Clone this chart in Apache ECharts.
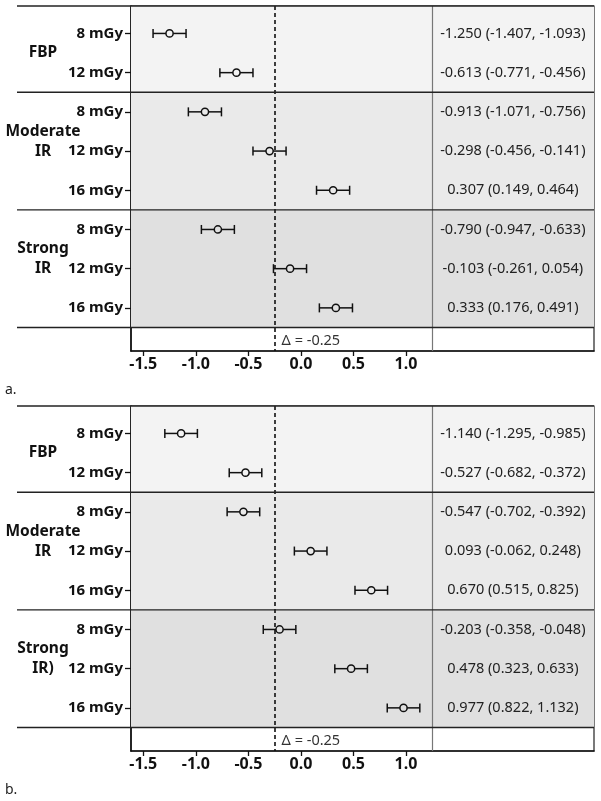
<!DOCTYPE html>
<html><head><meta charset="utf-8">
<script src="https://cdn.jsdelivr.net/npm/echarts@6/dist/echarts.min.js"></script>
<style>html,body{margin:0;padding:0;background:#fff}#c{width:601px;height:801px}</style>
</head><body><div id="c"></div>
<script>
// ---- data ----
const doseLabels = ['8 mGy','12 mGy','8 mGy','12 mGy','16 mGy','8 mGy','12 mGy','16 mGy'];
const groupLabelsA = ['FBP','Moderate\nIR','Strong\nIR'];
const groupLabelsB = ['FBP','Moderate\nIR','Strong\nIR)'];
const groupSizes = [2,3,3];
const estA  = [-1.250,-0.613,-0.913,-0.298, 0.307,-0.790,-0.103, 0.333];
const lowA  = [-1.407,-0.771,-1.071,-0.456, 0.149,-0.947,-0.261, 0.176];
const highA = [-1.093,-0.456,-0.756,-0.141, 0.464,-0.633, 0.054, 0.491];
const estB  = [-1.140,-0.527,-0.547, 0.093, 0.670,-0.203, 0.478, 0.977];
const lowB  = [-1.295,-0.682,-0.702,-0.062, 0.515,-0.358, 0.323, 0.822];
const highB = [-0.985,-0.372,-0.392, 0.248, 0.825,-0.048, 0.633, 1.132];
const xTicks = [-1.5,-1.0,-0.5,0.0,0.5,1.0];
const marginDelta = -0.25;
const panelLabels = ['a.','b.'];

// ---- layout / style ----
const X_MIN = -1.617, X_MAX = 2.79, X_SEP = 1.245;
const Y_MIN = -0.70, Y_MAX = 8.10;
const groupColors = ['#f3f3f3','#eaeaea','#e0e0e0'];
const FONT = '"Noto Sans", sans-serif';
const panelTops = [6, 406];
const gridH = 345;

function fmt(v){ return v.toFixed(3); }

const panels = [
  {est: estA, lo: lowA, hi: highA, groups: groupLabelsA},
  {est: estB, lo: lowB, hi: highB, groups: groupLabelsB}
];

// group boundaries in row units
const bounds = [Y_MIN];
{ let acc = 0; groupSizes.forEach(s => { acc += s; bounds.push(acc - 0.5); }); }

const grids = [], xAxes = [], yAxes = [], series = [];
panels.forEach((p, i) => {
  grids.push({left: 131, right: 7, top: panelTops[i], height: gridH, show: true,
    borderColor: '#222', borderWidth: 1.2, backgroundColor: 'transparent'});
  xAxes.push({type: 'value', gridIndex: i, min: X_MIN, max: X_MAX,
    axisLine: {show: true, onZero: false, lineStyle: {color: '#111', width: 1.6}},
    axisTick: {show: true, customValues: xTicks, length: 5, lineStyle: {color: '#111', width: 1.3}},
    axisLabel: {show: true, customValues: xTicks, formatter: v => v.toFixed(1),
      fontFamily: FONT, fontWeight: 'bold', fontSize: 16, color: '#111', margin: 5},
    splitLine: {show: false}});
  const rows = doseLabels.map((_, k) => k);
  yAxes.push({type: 'value', gridIndex: i, inverse: true, min: Y_MIN, max: Y_MAX,
    axisLine: {show: true, onZero: false, lineStyle: {color: '#111', width: 1.6}},
    axisTick: {show: true, customValues: rows, length: 6, lineStyle: {color: '#111', width: 1.3}},
    axisLabel: {show: true, customValues: rows, formatter: v => doseLabels[Math.round(v)],
      fontFamily: FONT, fontWeight: 'bold', fontSize: 15, color: '#111', margin: 8},
    splitLine: {show: false}});

  // shading + reference lines
  const areas = groupSizes.map((_, g) => [
    {yAxis: bounds[g], itemStyle: {color: groupColors[g]}},
    {yAxis: bounds[g + 1]}
  ]);
  series.push({type: 'line', xAxisIndex: i, yAxisIndex: i, data: [], silent: true, z: 1,
    markArea: {silent: true, data: areas, itemStyle: {opacity: 1}},
    markLine: {silent: true, symbol: 'none', label: {show: false}, data: [
      {xAxis: X_SEP, lineStyle: {color: '#777', width: 1.2, type: 'solid'}},
      {xAxis: marginDelta, lineStyle: {color: '#111', width: 1.6, type: [4, 3]}}
    ]}});

  // error bars + circles
  const ebData = p.est.map((e, k) => [p.lo[k], p.hi[k], e, k]);
  series.push({type: 'custom', xAxisIndex: i, yAxisIndex: i, z: 5, data: ebData,
    renderItem: (params, api) => {
      const lo = api.coord([api.value(0), api.value(3)]);
      const hi = api.coord([api.value(1), api.value(3)]);
      const c = api.coord([api.value(2), api.value(3)]);
      const r = 3.6, cap = 4.5;
      const st = {stroke: '#111', lineWidth: 1.5, fill: null};
      return {type: 'group', children: [
        {type: 'line', shape: {x1: lo[0], y1: lo[1], x2: c[0] - r, y2: c[1]}, style: st},
        {type: 'line', shape: {x1: c[0] + r, y1: c[1], x2: hi[0], y2: hi[1]}, style: st},
        {type: 'line', shape: {x1: lo[0], y1: lo[1] - cap, x2: lo[0], y2: lo[1] + cap}, style: st},
        {type: 'line', shape: {x1: hi[0], y1: hi[1] - cap, x2: hi[0], y2: hi[1] + cap}, style: st},
        {type: 'circle', shape: {cx: c[0], cy: c[1], r: r}, style: {stroke: '#111', lineWidth: 1.5, fill: 'none'}}
      ]};
    }});

  // right column text
  const colX = (X_SEP + X_MAX) / 2;
  const txtData = p.est.map((e, k) => [colX, k, fmt(e) + ' (' + fmt(p.lo[k]) + ', ' + fmt(p.hi[k]) + ')']);
  series.push({type: 'custom', xAxisIndex: i, yAxisIndex: i, z: 6, data: txtData,
    renderItem: (params, api) => {
      const c = api.coord([api.value(0), api.value(1)]);
      return {type: 'text', x: c[0], y: c[1], style: {text: txtData[params.dataIndex][2],
        textAlign: 'center', textVerticalAlign: 'middle', fontFamily: FONT, fontSize: 14.5, fill: '#222'}};
    }});

  // delta label
  const dY = (bounds[bounds.length - 1] + Y_MAX) / 2;
  series.push({type: 'custom', xAxisIndex: i, yAxisIndex: i, z: 6, data: [[marginDelta, dY]],
    renderItem: (params, api) => {
      const c = api.coord([api.value(0), api.value(1)]);
      return {type: 'text', x: c[0] + 7, y: c[1] + 2, style: {text: 'Δ = ' + marginDelta.toFixed(2),
        textAlign: 'left', textVerticalAlign: 'middle', fontFamily: FONT, fontSize: 14.5, fill: '#333'}};
    }});
});

const chart = echarts.init(document.getElementById('c'), null, {renderer: 'canvas'});
chart.setOption({animation: false, backgroundColor: '#fff', grid: grids, xAxis: xAxes, yAxis: yAxes, series: series});

// separator lines + group labels + panel labels (positions from axes)
const graphics = [];
panels.forEach((p, i) => {
  const rightPx = chart.convertToPixel({gridIndex: i}, [X_MAX, 0])[0];
  bounds.forEach(b => {
    const y = chart.convertToPixel({gridIndex: i}, [X_MIN, b])[1];
    graphics.push({type: 'line', z: 10, shape: {x1: 17, y1: y, x2: rightPx, y2: y},
      style: {stroke: '#222', lineWidth: 1.4}});
  });
  let start = 0;
  groupSizes.forEach((s, g) => {
    const yMid = chart.convertToPixel({gridIndex: i}, [X_MIN, start + 0.5])[1];
    graphics.push({type: 'text', z: 10, x: 43, y: yMid - 10,
      style: {text: p.groups[g], textAlign: 'center', textVerticalAlign: 'top',
        fontFamily: FONT, fontWeight: 'bold', fontSize: 15.5, lineHeight: 20, fill: '#111'}});
    start += s;
  });
  const axisY = chart.convertToPixel({gridIndex: i}, [X_MIN, Y_MAX])[1];
  graphics.push({type: 'text', z: 10, x: 5, y: axisY + 39,
    style: {text: panelLabels[i], textAlign: 'left', textVerticalAlign: 'middle',
      fontFamily: FONT, fontSize: 14, fill: '#222'}});
});
chart.setOption({graphic: graphics});
</script></body></html>
